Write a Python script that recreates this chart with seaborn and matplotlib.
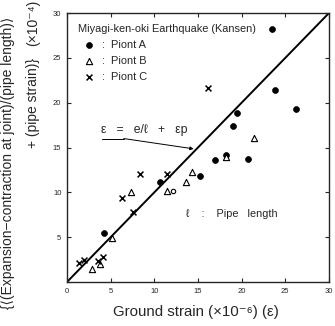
import numpy as np
import matplotlib
matplotlib.use("Agg")
import matplotlib.pyplot as plt
import pandas as pd
import seaborn as sns

# values
point_a_x = [23.5, 23.8, 26.2, 19.5, 19.0, 18.2, 16.9, 20.7, 15.2, 10.6, 4.2]
point_a_y = [28.2, 21.4, 19.3, 18.8, 17.4, 14.2, 13.6, 13.7, 11.8, 11.1, 5.5]
point_b_x = [21.4, 18.2, 14.3, 13.6, 11.5, 7.3, 5.2, 2.9, 3.8]
point_b_y = [16.1, 13.9, 12.3, 11.1, 10.2, 10.0, 4.9, 1.5, 2.0]
point_c_x = [16.2, 8.4, 11.4, 6.3, 7.6, 1.4, 1.9, 3.6, 4.1]
point_c_y = [21.6, 12.0, 12.1, 9.4, 7.8, 2.1, 2.5, 2.3, 2.8]
open_x = [12.1]
open_y = [10.2]
fit_x = [0, 30]
fit_y = [0, 30]
ticks = [0, 5, 10, 15, 20, 25, 30]

sns.set_style("ticks")
fam = ['Liberation Sans', 'DejaVu Sans']
plt.rcParams['font.family'] = fam
plt.rcParams['axes.linewidth'] = 1.0

fig = plt.figure(figsize=(3.35, 3.26), dpi=100)
ax = fig.add_axes([0.2, 0.135, 0.782, 0.825])

df_a = pd.DataFrame({'x': point_a_x, 'y': point_a_y})
df_b = pd.DataFrame({'x': point_b_x, 'y': point_b_y})
df_c = pd.DataFrame({'x': point_c_x, 'y': point_c_y})

sns.lineplot(x=fit_x, y=fit_y, color='black', linewidth=1.4, ax=ax)

sns.scatterplot(data=df_a, x='x', y='y', marker='o', s=18, color='black',
                edgecolor='black', linewidth=0.5, ax=ax, label=':  Piont A')
sns.scatterplot(data=df_b, x='x', y='y', marker='^', s=20, facecolor='white',
                edgecolor='black', linewidth=0.8, ax=ax, label=':  Piont B')
sns.scatterplot(data=df_c, x='x', y='y', marker='x', s=18, color='black',
                linewidth=1.1, ax=ax, label=':  Piont C')
sns.scatterplot(x=open_x, y=open_y, marker='o', s=10, facecolor='white',
                edgecolor='black', linewidth=0.8, ax=ax)

ax.set_xlim(0, 30)
ax.set_ylim(0, 30)
ax.set_xticks(ticks)
ax.set_yticks(ticks)
ax.set_yticklabels([''] + [str(t) for t in ticks[1:]])
ax.tick_params(direction='in', length=3, width=0.8, labelsize=5.5,
               top=True, right=True, pad=4)
ax.set_xlabel('')
ax.set_ylabel('')

leg = ax.legend(loc='upper left', frameon=False, fontsize=7.9,
                title='Miyagi-ken-oki Earthquake (Kansen)',
                title_fontsize=7.9, handletextpad=0.2, labelspacing=0.55,
                borderaxespad=0.6, borderpad=0.4, markerscale=1.0)
leg._legend_box.align = 'left'

# equation label with its leader line
ax.text(3.9, 16.6, 'ε   =   e/ℓ   +   εp', fontsize=8.8, family=fam)
ax.plot([4.0, 6.5], [16.0, 16.0], color='black', linewidth=0.7)
ax.annotate('', xy=(14.5, 14.85), xytext=(6.5, 16.0),
            arrowprops=dict(arrowstyle='-|>', color='black', lw=0.7,
                            mutation_scale=5, shrinkA=0, shrinkB=0))
ax.text(13.6, 7.3, 'ℓ    :    Pipe   length', fontsize=7.8, family=fam)

fig.text(0.585, 0.02, 'Ground strain (×10⁻⁶) (ε)', fontsize=10.8,
         ha='center', va='bottom', family=fam)
fig.text(0.024, 0.5, '{⟨(Expansion−contraction at joint)/(pipe length)⟩',
         rotation=90, fontsize=10, ha='center', va='center', family=fam)
fig.text(0.1, 0.685, '+ (pipe strain)}', rotation=90, fontsize=10,
         ha='center', va='center', family=fam)
fig.text(0.1, 0.93, '(×10⁻⁴)', rotation=90, fontsize=10,
         ha='center', va='center', family=fam)

fig.savefig('out.png', dpi=100)
